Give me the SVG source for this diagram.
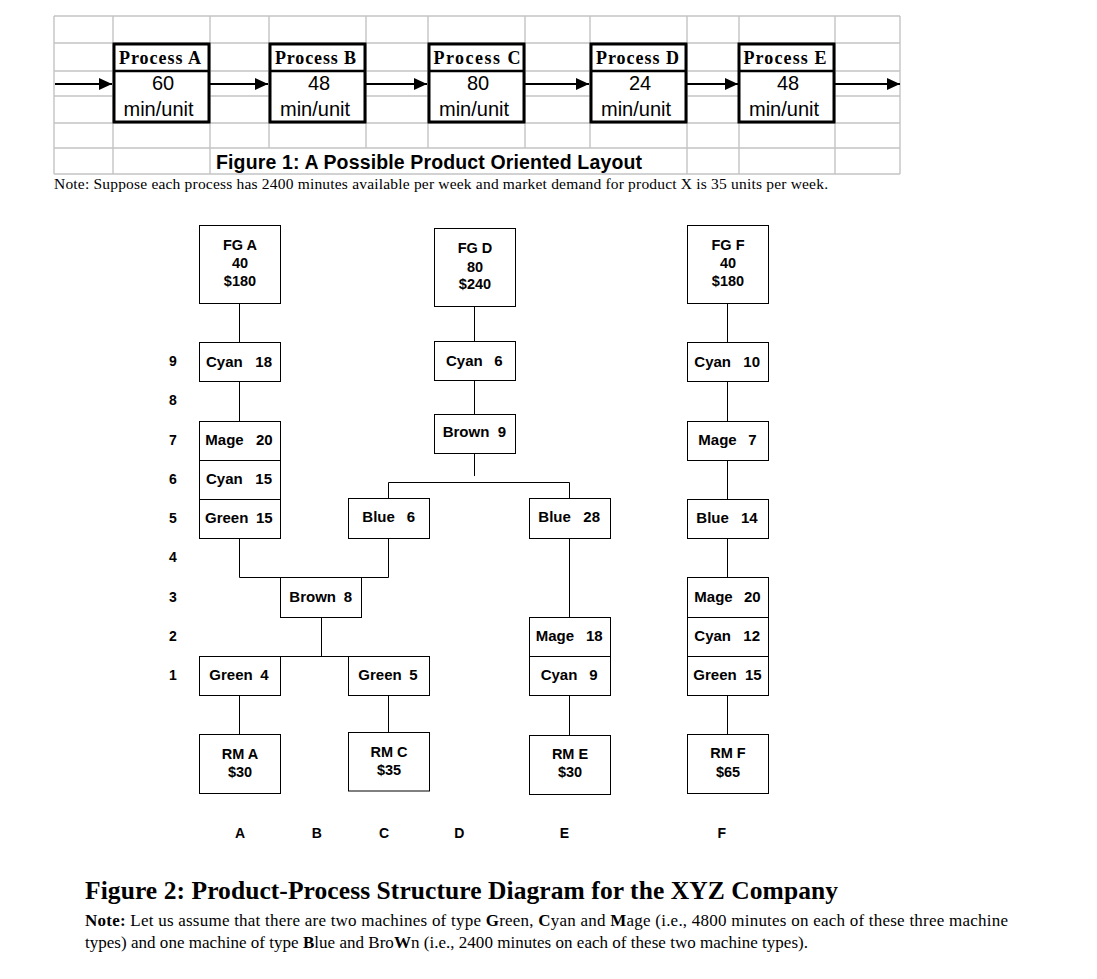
<svg xmlns="http://www.w3.org/2000/svg" width="1097" height="979" viewBox="0 0 1097 979">
<style>
.grid{stroke:#c4c4c4;stroke-width:1.4;fill:none}
.pbox{fill:#fff;stroke:#000;stroke-width:3}
.ph{font-family:"Liberation Serif","Times New Roman",serif;font-weight:bold;font-size:18px;text-anchor:middle}
.pn{font-family:"Liberation Sans",Arial,sans-serif;font-size:20px;text-anchor:middle}
.pu{font-family:"Liberation Sans",Arial,sans-serif;font-size:20px}
.arr{stroke:#000;stroke-width:2;fill:none}
.box{fill:#fff;stroke:#000;stroke-width:1}
.con{stroke:#000;stroke-width:1;fill:none}
.lbl{font-family:"Liberation Sans",Arial,sans-serif;font-weight:bold;font-size:15px}
.lc{font-family:"Liberation Sans",Arial,sans-serif;font-weight:bold;font-size:14.5px;text-anchor:middle}
.end{text-anchor:end}
.axis{font-family:"Liberation Sans",Arial,sans-serif;font-weight:bold;font-size:14px;text-anchor:middle}
.serif{font-family:"Liberation Serif","Times New Roman",serif}
</style>
<defs>
<marker id="ah" markerUnits="userSpaceOnUse" markerWidth="14" markerHeight="12" refX="13" refY="6" orient="auto">
<path d="M0,0 L13,6 L0,12 z" fill="#000"/>
</marker>
</defs>
<rect x="0" y="0" width="1097" height="979" fill="#fff"/>

<g id="grid">
<path class="grid" d="M54 16H900M54 43H900M54 71H900M54 96H900M54 123H900M54 148H900M54 174H900"/>
<path class="grid" d="M54 16V174M113 16V174M210 16V174M687 16V174M739 16V174M835 16V174M900 16V174M269 16V148M366 16V148M428 16V148M525 16V148M590 16V148"/>
</g>

<g id="fig1-connectors">
<line class="arr" x1="55" y1="84" x2="112" y2="84" marker-end="url(#ah)"/>
<line class="arr" x1="210" y1="84" x2="268" y2="84" marker-end="url(#ah)"/>
<line class="arr" x1="366" y1="84" x2="427" y2="84" marker-end="url(#ah)"/>
<line class="arr" x1="525" y1="84" x2="589" y2="84" marker-end="url(#ah)"/>
<line class="arr" x1="687" y1="84" x2="738" y2="84" marker-end="url(#ah)"/>
<line class="arr" x1="835" y1="84" x2="900" y2="84" marker-end="url(#ah)"/>
</g>

<g id="processA">
<rect class="pbox" x="114" y="44" width="95" height="78"/><line x1="114" y1="71" x2="209" y2="71" stroke="#000" stroke-width="2.5"/>
<text class="ph" x="160" y="64" textLength="82" lengthAdjust="spacing">Process A</text>
<text class="pn" x="163" y="90">60</text>
<text class="pu" x="123.5" y="116">min/unit</text>
</g>
<g id="processB">
<rect class="pbox" x="270" y="44" width="95" height="78"/><line x1="270" y1="71" x2="365" y2="71" stroke="#000" stroke-width="2.5"/>
<text class="ph" x="315.5" y="64" textLength="81" lengthAdjust="spacing">Process B</text>
<text class="pn" x="319" y="90">48</text>
<text class="pu" x="280" y="116">min/unit</text>
</g>
<g id="processC">
<rect class="pbox" x="429" y="44" width="95" height="78"/><line x1="429" y1="71" x2="524" y2="71" stroke="#000" stroke-width="2.5"/>
<text class="ph" x="477" y="64" textLength="87" lengthAdjust="spacing">Process C</text>
<text class="pn" x="478" y="90">80</text>
<text class="pu" x="439" y="116">min/unit</text>
</g>
<g id="processD">
<rect class="pbox" x="591" y="44" width="95" height="78"/><line x1="591" y1="71" x2="686" y2="71" stroke="#000" stroke-width="2.5"/>
<text class="ph" x="637.5" y="64" textLength="83" lengthAdjust="spacing">Process D</text>
<text class="pn" x="640" y="90">24</text>
<text class="pu" x="601" y="116">min/unit</text>
</g>
<g id="processE">
<rect class="pbox" x="739" y="44" width="95" height="78"/><line x1="739" y1="71" x2="834" y2="71" stroke="#000" stroke-width="2.5"/>
<text class="ph" x="785" y="64" textLength="83" lengthAdjust="spacing">Process E</text>
<text class="pn" x="788" y="90">48</text>
<text class="pu" x="749" y="116">min/unit</text>
</g>

<text x="216" y="168.5" font-family="Liberation Sans, Arial, sans-serif" font-weight="bold" font-size="19.5" textLength="426" lengthAdjust="spacing">Figure 1: A Possible Product Oriented Layout</text>
<text class="serif" x="54" y="189" font-size="15.5" textLength="774" lengthAdjust="spacing">Note: Suppose each process has 2400 minutes available per week and market demand for product X is 35 units per week.</text>

<g id="connectors">
<path class="con" d="M239.5 303.5V342.5M239.5 381.5V421.5M239.5 538.5V577.5H388.5V538.5M321.5 617.5V656.5M280.5 656.5H348.5M239.5 695.5V734.5M388.5 695.5V732.5"/>
<path class="con" d="M474.5 306.5V341.5M474.5 380.5V414.5M474.5 453.5V476M388.5 498.5V482.5H569.5V498.5"/>
<path class="con" d="M569.5 538.5V617.5M569.5 695.5V735.5"/>
<path class="con" d="M727.5 303.5V342.5M727.5 381.5V421.5M727.5 460.5V499.5M727.5 538.5V577.5M727.5 695.5V734.5"/>
</g>

<g id="fgA"><rect class="box" x="199.5" y="225.5" width="81" height="78"/>
<text class="lc" x="240" y="250">FG A</text><text class="lc" x="240" y="268">40</text><text class="lc" x="240" y="286">$180</text></g>
<g id="cyanA18"><rect class="box" x="199.5" y="342.5" width="81" height="39"/>
<text class="lbl" x="206" y="366.5">Cyan <tspan class="end" x="272">18</tspan></text></g>
<g id="mageA20"><rect class="box" x="199.5" y="421.5" width="81" height="39"/>
<text class="lbl" x="205.3" y="445">Mage <tspan class="end" x="272.7">20</tspan></text></g>
<g id="cyanA15"><rect class="box" x="199.5" y="460.5" width="81" height="39"/>
<text class="lbl" x="206" y="484">Cyan <tspan class="end" x="272">15</tspan></text></g>
<g id="greenA15"><rect class="box" x="199.5" y="499.5" width="81" height="39"/>
<text class="lbl" x="205" y="523">Green <tspan class="end" x="272.7">15</tspan></text></g>
<g id="brown8"><rect class="box" x="280.5" y="577.5" width="81" height="40"/>
<text class="lbl" x="289.3" y="601.7">Brown <tspan class="end" x="352">8</tspan></text></g>
<g id="green4"><rect class="box" x="199.5" y="656.5" width="81" height="39"/>
<text class="lbl" x="209.3" y="680">Green <tspan class="end" x="268.7">4</tspan></text></g>
<g id="green5"><rect class="box" x="348.5" y="656.5" width="81" height="39"/>
<text class="lbl" x="358.3" y="680">Green <tspan class="end" x="417.7">5</tspan></text></g>
<g id="rmA"><rect class="box" x="199.5" y="734.5" width="81" height="59"/>
<text class="lc" x="240" y="759.3">RM A</text><text class="lc" x="240" y="777">$30</text></g>
<g id="rmC"><rect class="box" x="348.5" y="732.5" width="81" height="58.5"/>
<text class="lc" x="389" y="757.3">RM C</text><text class="lc" x="389" y="775">$35</text></g>
<g id="blue6"><rect class="box" x="348.5" y="498.5" width="81" height="40"/>
<text class="lbl" x="362.3" y="522">Blue <tspan class="end" x="415">6</tspan></text></g>
<g id="fgD"><rect class="box" x="434.5" y="228.5" width="81" height="78"/>
<text class="lc" x="475" y="253.3">FG D</text><text class="lc" x="475" y="271.7">80</text><text class="lc" x="475" y="289.3">$240</text></g>
<g id="cyanD6"><rect class="box" x="434.5" y="341.5" width="81" height="39"/>
<text class="lbl" x="446" y="365.5">Cyan <tspan class="end" x="502.7">6</tspan></text></g>
<g id="brown9"><rect class="box" x="434.5" y="414.5" width="81" height="39"/>
<text class="lbl" x="442.7" y="437.3">Brown <tspan class="end" x="506">9</tspan></text></g>
<g id="blue28"><rect class="box" x="529.5" y="498.5" width="81" height="40"/>
<text class="lbl" x="538.3" y="522">Blue <tspan class="end" x="600">28</tspan></text></g>
<g id="mage18"><rect class="box" x="529.5" y="617.5" width="81" height="39"/>
<text class="lbl" x="535.7" y="641">Mage <tspan class="end" x="602.7">18</tspan></text></g>
<g id="cyan9"><rect class="box" x="529.5" y="656.5" width="81" height="39"/>
<text class="lbl" x="540.7" y="680">Cyan <tspan class="end" x="597.7">9</tspan></text></g>
<g id="rmE"><rect class="box" x="529.5" y="735.5" width="81" height="59"/>
<text class="lc" x="570" y="759.3">RM E</text><text class="lc" x="570" y="777.3">$30</text></g>
<g id="fgF"><rect class="box" x="687.5" y="225.5" width="81" height="78"/>
<text class="lc" x="728" y="250">FG F</text><text class="lc" x="728" y="268.3">40</text><text class="lc" x="728" y="286">$180</text></g>
<g id="cyan10"><rect class="box" x="687.5" y="342.5" width="81" height="39"/>
<text class="lbl" x="694.3" y="366.5">Cyan <tspan class="end" x="760">10</tspan></text></g>
<g id="mage7"><rect class="box" x="687.5" y="421.5" width="81" height="39"/>
<text class="lbl" x="698.3" y="445">Mage <tspan class="end" x="756.7">7</tspan></text></g>
<g id="blue14"><rect class="box" x="687.5" y="499.5" width="81" height="39"/>
<text class="lbl" x="696.3" y="523">Blue <tspan class="end" x="757.7">14</tspan></text></g>
<g id="mageF20"><rect class="box" x="687.5" y="577.5" width="81" height="40"/>
<text class="lbl" x="694.3" y="601.7">Mage <tspan class="end" x="760.7">20</tspan></text></g>
<g id="cyan12"><rect class="box" x="687.5" y="617.5" width="81" height="39"/>
<text class="lbl" x="694.3" y="641">Cyan <tspan class="end" x="760">12</tspan></text></g>
<g id="greenF15"><rect class="box" x="687.5" y="656.5" width="81" height="39"/>
<text class="lbl" x="693.3" y="680">Green <tspan class="end" x="761.7">15</tspan></text></g>
<g id="rmF"><rect class="box" x="687.5" y="734.5" width="81" height="59"/>
<text class="lc" x="728" y="758.3">RM F</text><text class="lc" x="728" y="776.7">$65</text></g>

<g id="rows">
<text class="axis" x="173" y="366">9</text>
<text class="axis" x="173" y="405">8</text>
<text class="axis" x="173" y="445">7</text>
<text class="axis" x="173" y="484">6</text>
<text class="axis" x="173" y="523">5</text>
<text class="axis" x="173" y="562">4</text>
<text class="axis" x="173" y="601.7">3</text>
<text class="axis" x="173" y="641">2</text>
<text class="axis" x="173" y="680">1</text>
</g>
<g id="columns">
<text class="axis" x="240" y="838">A</text>
<text class="axis" x="316.7" y="838">B</text>
<text class="axis" x="384" y="838">C</text>
<text class="axis" x="459.3" y="838">D</text>
<text class="axis" x="564.3" y="838">E</text>
<text class="axis" x="721.7" y="838">F</text>
</g>

<text class="serif" x="85" y="899" font-size="25.5" font-weight="bold" textLength="753" lengthAdjust="spacing">Figure 2: Product-Process Structure Diagram for the XYZ Company</text>
<text class="serif" x="85" y="926" font-size="17" textLength="923" lengthAdjust="spacing"><tspan font-weight="bold">Note:</tspan> Let us assume that there are two machines of type <tspan font-weight="bold">G</tspan>reen, <tspan font-weight="bold">C</tspan>yan and <tspan font-weight="bold">M</tspan>age (i.e., 4800 minutes on each of these three machine</text>
<text class="serif" x="85" y="948" font-size="17" textLength="723" lengthAdjust="spacing">types) and one machine of type <tspan font-weight="bold">B</tspan>lue and Bro<tspan font-weight="bold">W</tspan>n (i.e., 2400 minutes on each of these two machine types).</text>
</svg>
